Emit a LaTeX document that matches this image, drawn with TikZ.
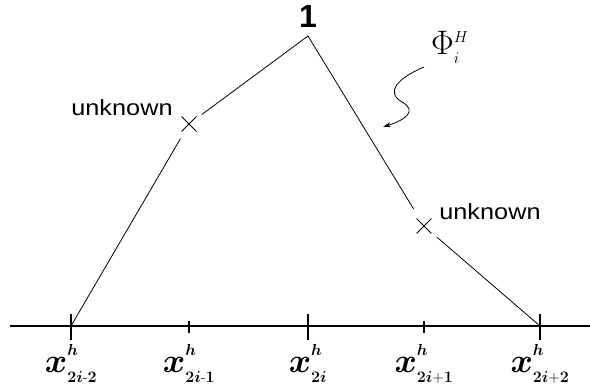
\RequirePackage{fix-cm}
\documentclass[tikz,border=0pt]{standalone}
\usepackage{amsmath}
\usepackage{graphicx}
\usepackage{fontspec}
\usetikzlibrary{positioning,arrows.meta,calc,shapes.misc}
\newfontfamily\lblfont{Liberation Sans}
\DeclareMathSizes{34}{34}{16}{13}
\newcommand{\widetxt}[1]{\scalebox{1.15}[1]{#1}}
\newcommand{\xnode}[1]{$x^{\raisebox{4pt}{$\scriptstyle h$}}_{\scriptstyle #1}$}
\tikzset{
  fn/.style={line width=0.8pt, black},
  axis/.style={line width=1.3pt},
  tk/.style={line width=1.3pt},
  mk/.style={cross out, draw, line width=0.9pt, minimum size=14pt, inner sep=0pt},
  lbl/.style={font=\fontsize{22}{24}\selectfont\lblfont, inner sep=0pt, anchor=base},
  xl/.style={font=\fontsize{34}{36}\selectfont\boldmath, inner sep=0pt, anchor=base},
  ar/.style={-{Stealth[length=8pt,width=5pt]}, line width=0.8pt}
}
\begin{document}
\begin{tikzpicture}[x=1pt,y=-1pt]
\useasboundingbox (0,0) rectangle (590,385);
% axis and ticks
\coordinate (ax0) at (10,326); \coordinate (ax1) at (590,326);
\coordinate (a0) at (71,326); \coordinate (a1) at (189,326);
\coordinate (a2) at (308,326); \coordinate (a3) at (424,326);
\coordinate (a4) at (540,326);
\draw[axis] (ax0) -- (ax1);
\foreach \p in {a0,a2,a4} \draw[tk] ($(\p)+(0,-12)$) -- ($(\p)+(0,14)$);
\foreach \p in {a1,a3} \draw[tk] ($(\p)+(0,-5)$) -- ($(\p)+(0,7)$);
\node[xl] (l0) at (71,372) {\xnode{2i\text{-}2}};
\node[xl] (l1) at (189,372) {\xnode{2i\text{-}1}};
\node[xl] (l2) at (308,372) {\xnode{2i}};
\node[xl] (l3) at (424,372) {\xnode{2i\text{+}1}};
\node[xl] (l4) at (540,372) {\xnode{2i\text{+}2}};
% hat function
\coordinate (top) at (308,36);
\node[mk] (u1) at (189,124) {};
\node[mk] (u2) at (424,226) {};
\draw[fn] (a0) -- ($(u1)!17pt!(a0)$);
\draw[fn] ($(u1)!16pt!(top)$) -- (top) -- ($(u2)!20pt!(top)$);
\draw[fn] ($(u2)!17pt!(a4)$) -- (a4);
\node[lbl] (uk1) at (122,116) {\widetxt{unknown}};
\node[lbl] (uk2) at (490,220) {\widetxt{unknown}};
\node[lbl, font=\fontsize{32}{34}\selectfont\lblfont\bfseries] (one) at (308,28) {1};
% label arrow
\node[anchor=base west, inner sep=0pt, font=\fontsize{34}{36}\selectfont] (phi) at (431,55) {$\Phi^{\scriptstyle H}_{\scriptstyle i}$};
\coordinate (cs) at (424,67); \coordinate (ce) at (383,127);
\draw[ar] (cs) .. controls (398,78) and (385,92) .. (402,102) .. controls (418,111) and (405,120) .. (ce);
\end{tikzpicture}
\end{document}
